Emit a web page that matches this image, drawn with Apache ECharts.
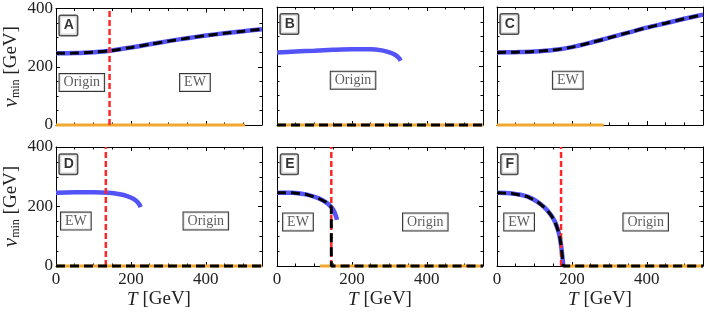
<!DOCTYPE html>
<html><head><meta charset="utf-8">
<script src="https://cdn.jsdelivr.net/npm/echarts@6/dist/echarts.min.js"></script>
<style>html,body{margin:0;padding:0;background:#fff}#c{width:706px;height:314px}</style>
</head><body><div id="c"></div>
<script>
// ---- axis ticks ----
const xTicks = [0, 200, 400];
const yTicks = [0, 200, 400];
const xMax = 550, yMax = 400;
const panelLetters = ['A','B','C','D','E','F'];

// ---- Panel A ----
const A_curveT = [0,50,100,150,200,250,300,350,400,450,500,550];
const A_curveV = [246,247,250,256,266,277,288,298,307,315,322,329];
const A_orangeT = [0,505];
const A_Tc = 143;
// ---- Panel B ----
const B_blueT = [0,50,100,150,200,250,280,300,315,325,330];
const B_blueV = [246,249,252,255,257,257,253,246,238,228,218];
const B_orangeT = [0,550];
const B_zeroDashT = [0,550];
// ---- Panel C ----
const C_curveT = [0,50,100,150,200,250,300,350,400,450,500,550];
const C_curveV = [246,247,249,254,264,279,296,313,330,345,360,374];
const C_orangeT = [0,285];
// ---- Panel D ----
const D_blueT = [0,50,100,140,170,190,205,215,222,226];
const D_blueV = [246,248,248,246,241,235,227,218,208,198];
const D_orangeT = [0,550];
const D_zeroDashT = [0,550];
const D_Tc = 133;
// ---- Panel E ----
const E_blueT = [0,40,80,110,130,145,153,158,160];
const E_blueV = [246,246,240,228,215,198,182,165,155];
const E_dashT = [0,40,80,110,130,145,145,550];
const E_dashV = [246,246,240,228,215,198,0,0];
const E_orangeT = [115,550];
const E_Tc = 145;
// ---- Panel F ----
const F_blueT = [0,40,80,110,130,145,155,163,168,172,175,177];
const F_blueV = [246,244,234,214,193,170,148,120,95,60,25,0];
const F_dashT = [0,40,80,110,130,145,155,163,168,172,175,177,550];
const F_dashV = [246,244,234,214,193,170,148,120,95,60,25,0,0];
const F_orangeT = [177,550];
const F_Tc = 171;

// ---- phase labels: [text, T, v] ----
const A_labels = [['Origin',69,146],['EW',371,146]];
const B_labels = [['Origin',203,152]];
const C_labels = [['EW',189,152]];
const D_labels = [['EW',53,151],['Origin',400,151]];
const E_labels = [['EW',56,148],['Origin',396,148]];
const F_labels = [['EW',59,148],['Origin',397,148]];
const letterPos = [33, 342];

const BLUE = '#5353f7', BLACK = '#000', RED = '#ff2626', ORANGE = '#f0a830';
const SERIF = '"Liberation Serif","DejaVu Serif",serif';

const grids = [
  {left:56, top:7, width:206, height:118},
  {left:277, top:7, width:206, height:118},
  {left:497, top:7, width:206, height:118},
  {left:56, top:147, width:206, height:119},
  {left:277, top:147, width:206, height:119},
  {left:497, top:147, width:206, height:119}
];

const xAxes = [], yAxes = [], series = [];
function zip(t, v){ return t.map((x,i)=>[x, v[i]]); }
function zeroLine(t){ return t.map(x=>[x,0]); }

grids.forEach((g, i) => {
  const bottomRow = i >= 3, leftCol = (i % 3) === 0;
  const lineStyle = {color:'#000', width:1};
  const tickBase = {show:true, inside:true, length:4, lineStyle:{color:'#000', width:1}};
  const minor = {show:true, splitNumber:4, length:2.5, lineStyle:{color:'#000', width:1}};
  xAxes.push({
    gridIndex:i, type:'value', min:0, max:xMax, interval:200, position:'bottom',
    axisLine:{show:true, onZero:false, lineStyle}, axisTick:tickBase, minorTick:minor,
    splitLine:{show:false},
    axisLabel:{show:bottomRow, showMaxLabel:false, fontFamily:SERIF, fontSize:17, color:'#222', margin:5},
    name: bottomRow ? '{i|T} [GeV]' : '', nameLocation:'middle', nameGap:24,
    nameTextStyle:{fontFamily:SERIF, fontSize:19, color:'#222',
      rich:{i:{fontFamily:SERIF, fontStyle:'italic', fontSize:19, color:'#222'}}}
  });
  xAxes.push({
    gridIndex:i, type:'value', min:0, max:xMax, interval:200, position:'top',
    axisLine:{show:true, onZero:false, lineStyle}, axisTick:tickBase, minorTick:minor,
    splitLine:{show:false}, axisLabel:{show:false}
  });
  yAxes.push({
    gridIndex:i, type:'value', min:0, max:yMax, interval:200, position:'left',
    axisLine:{show:true, onZero:false, lineStyle}, axisTick:tickBase, minorTick:minor,
    splitLine:{show:false},
    axisLabel:{show:leftCol, fontFamily:SERIF, fontSize:17, color:'#222', margin:3},
    name: leftCol ? '{i|v}{s|min} [GeV]' : '', nameLocation:'middle', nameGap:34, nameRotate:90,
    nameTextStyle:{fontFamily:SERIF, fontSize:19, color:'#222',
      rich:{i:{fontFamily:SERIF, fontStyle:'italic', fontSize:21, color:'#222'},
            s:{fontFamily:SERIF, fontSize:12, color:'#222', verticalAlign:'bottom', padding:[8,0,0,0]}}}
  });
  yAxes.push({
    gridIndex:i, type:'value', min:0, max:yMax, interval:200, position:'right',
    axisLine:{show:true, onZero:false, lineStyle}, axisTick:tickBase, minorTick:minor,
    splitLine:{show:false}, axisLabel:{show:false}
  });
});

function ax(i){ return {xAxisIndex:2*i, yAxisIndex:2*i}; }
function orange(i, t){ series.push(Object.assign({type:'line', data:zeroLine(t), symbol:'none', clip:false, z:3,
  lineStyle:{color:ORANGE, width:3}}, ax(i))); }
function blue(i, data){ series.push(Object.assign({type:'line', data, symbol:'none', smooth:0.3, z:4,
  lineStyle:{color:BLUE, width:4.5}}, ax(i))); }
function dash(i, data, smooth){ series.push(Object.assign({type:'line', data, symbol:'none', smooth:smooth?0.3:false, clip:false, z:6,
  lineStyle:{color:BLACK, width:3, type:[9,5]}}, ax(i))); }
function red(i, Tc){ series.push(Object.assign({type:'line', data:[[Tc,0],[Tc,yMax]], symbol:'none', z:5,
  lineStyle:{color:RED, width:2.5, type:[6,3]}}, ax(i))); }
function labels(i, list){ series.push(Object.assign({type:'scatter', symbolSize:0, z:10,
  data:list.map(l=>({value:[l[1], l[2]], name:l[0]})),
  label:{show:true, position:'inside', formatter:p=>p.name, fontFamily:SERIF, fontSize:14, color:'#333',
    backgroundColor:'#fff', borderColor:'#000', borderWidth:1, padding:[2,4,1,4]}}, ax(i))); }
function letter(i){ series.push(Object.assign({type:'scatter', symbolSize:0, z:10,
  data:[{value:letterPos, name:panelLetters[i]}],
  label:{show:true, position:'inside', formatter:p=>p.name, fontFamily:'"Liberation Sans","DejaVu Sans",sans-serif',
    fontWeight:'bold', fontSize:14, color:'#000', backgroundColor:'#fff', borderColor:'#222', borderWidth:1.5,
    borderRadius:1, padding:[3,3,2,4]}}, ax(i))); }

// A
orange(0, A_orangeT); blue(0, zip(A_curveT, A_curveV)); red(0, A_Tc); dash(0, zip(A_curveT, A_curveV), true);
labels(0, A_labels); letter(0);
// B
orange(1, B_orangeT); blue(1, zip(B_blueT, B_blueV)); dash(1, zeroLine(B_zeroDashT));
labels(1, B_labels); letter(1);
// C
orange(2, C_orangeT); blue(2, zip(C_curveT, C_curveV)); dash(2, zip(C_curveT, C_curveV), true);
labels(2, C_labels); letter(2);
// D
orange(3, D_orangeT); blue(3, zip(D_blueT, D_blueV)); red(3, D_Tc); dash(3, zeroLine(D_zeroDashT));
labels(3, D_labels); letter(3);
// E
orange(4, E_orangeT); blue(4, zip(E_blueT, E_blueV)); red(4, E_Tc); dash(4, zip(E_dashT, E_dashV), false);
labels(4, E_labels); letter(4);
// F
orange(5, F_orangeT); blue(5, zip(F_blueT, F_blueV)); red(5, F_Tc); dash(5, zip(F_dashT, F_dashV), false);
labels(5, F_labels); letter(5);

const chart = echarts.init(document.getElementById('c'), null, {renderer:'canvas'});
chart.setOption({animation:false, backgroundColor:'#fff', grid:grids, xAxis:xAxes, yAxis:yAxes, series});
</script></body></html>
